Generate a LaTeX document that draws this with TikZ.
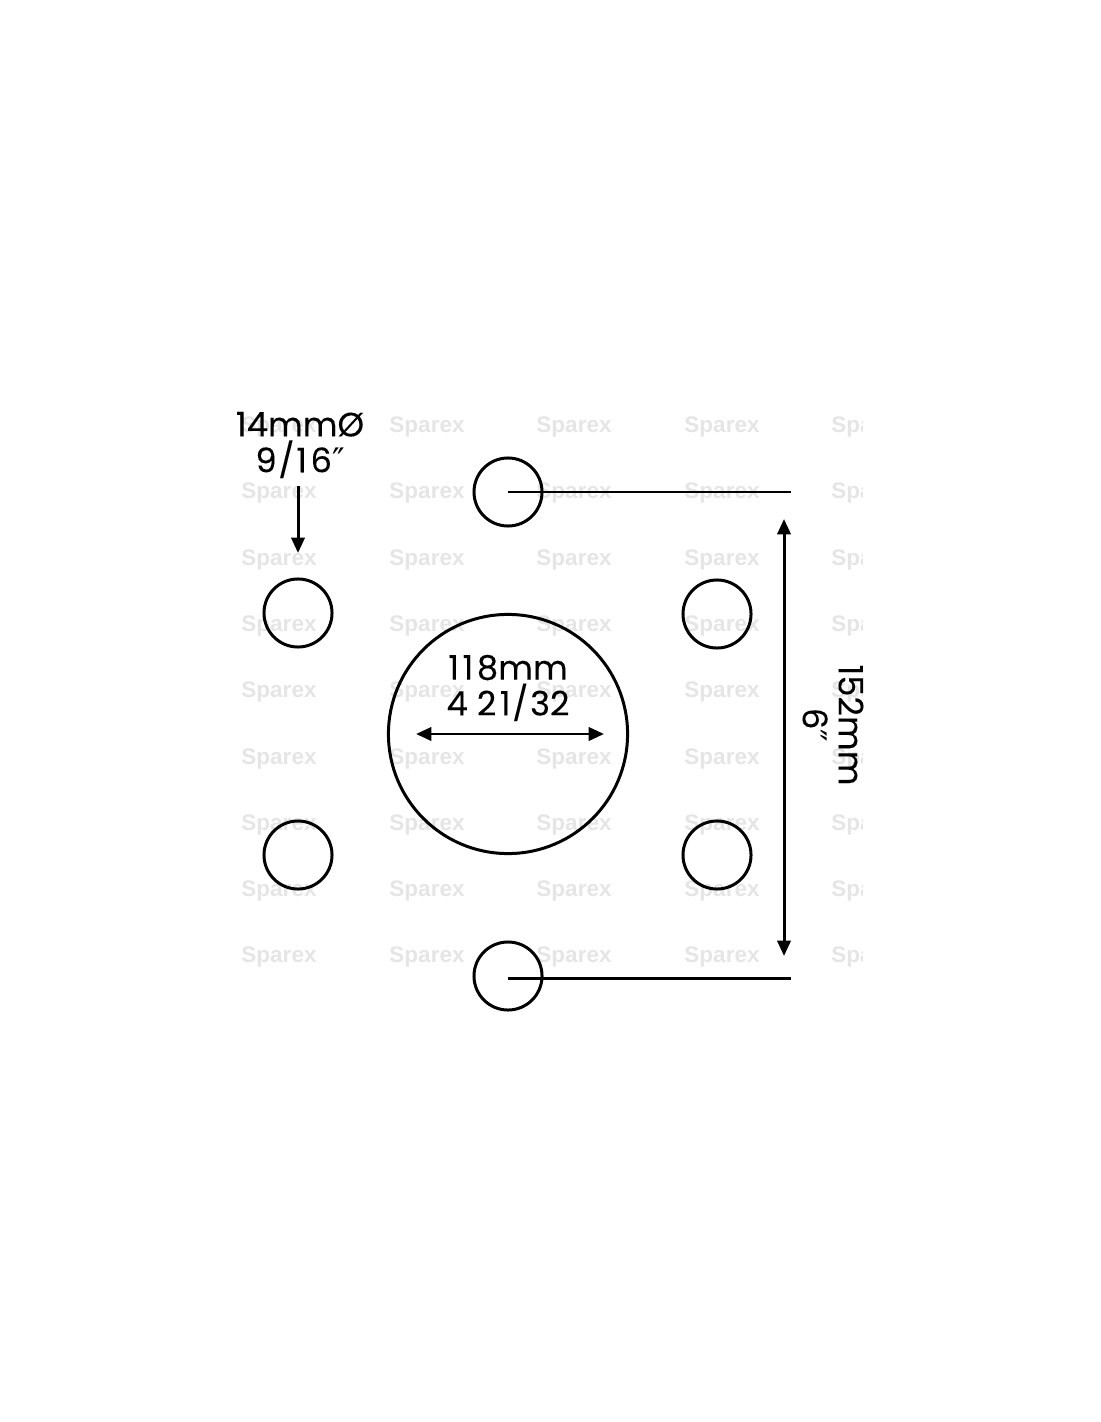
\documentclass[tikz,border=0pt]{standalone}
\usepackage{fontspec}
\setmainfont{Poppins}[FakeBold=0.15]
\newfontfamily\markfont{Liberation Sans}[BoldFont={Liberation Sans Bold}]
\newfontfamily\primefont{DejaVu Sans}
\usetikzlibrary{arrows.meta}
\definecolor{markgray}{gray}{0.9}
\newcommand{\dblprime}{{\primefont\char"2033}}
\newcommand{\onesp}{\kern1pt}
\newcommand{\halfsp}{\kern0.5pt}
\tikzset{
  hole/.style={draw=black,line width=0.85pt,circle,inner sep=0pt,outer sep=0pt,minimum size=0.68cm},
  bore/.style={draw=black,line width=0.85pt,circle,inner sep=0pt,outer sep=0pt,minimum size=2.39cm},
  dimline/.style={black,line width=0.85pt},
  dimarrow/.style={black,line width=0.85pt,-{Triangle[length=4.4pt,width=3.8pt]}},
  dimboth/.style={black,line width=0.85pt,{Triangle[length=4.4pt,width=3.8pt]}-{Triangle[length=4.4pt,width=3.8pt]}},
  dimtext/.style={inner sep=0pt,align=center,font=\fontsize{9.6}{10.2}\selectfont},
  wmark/.style={inner sep=0pt,text=markgray,font=\markfont\bfseries\fontsize{6.4}{7}\selectfont}
}
\begin{document}
\begin{tikzpicture}[x=0.01cm,y=0.01cm]
\useasboundingbox (0,0) rectangle (1100,-1422);
\begin{scope}
\clip (230,-405) rectangle (862,-975);
\foreach \wx in {279,427,574,722,869}
  \foreach \wy in {425,491,558,624,690,757,823,889,955}
    \node [wmark] (mark\wx-\wy) at (\wx,-\wy-2) {Sparex};
\end{scope}
\node [bore] (bore) at (508,-734) {};
\node [hole] (holeN) at (508,-492) {};
\node [hole] (holeNW) at (298,-613) {};
\node [hole] (holeNE) at (717,-614) {};
\node [hole] (holeSW) at (298,-855) {};
\node [hole] (holeSE) at (717,-855) {};
\node [hole] (holeS) at (508,-976) {};
\node [dimtext] (holesize) at (300,-445) {14mm\O\\9\halfsp/\halfsp 1\onesp 6\dblprime};
\node [dimtext] (boresize) at (508,-688) {1\onesp 1\onesp 8mm\\4 2\onesp 1\halfsp/\halfsp 32};
\node [dimtext,rotate=-90] (pitch) at (833,-725) {152mm\\6\dblprime};
\coordinate (topend) at (791,-492);
\coordinate (botstart) at (508,-978);
\coordinate (botend) at (791,-978);
\coordinate (pitchtop) at (784,-519);
\coordinate (pitchbot) at (784,-956);
\coordinate (boreleft) at (416,-734);
\coordinate (boreright) at (604,-734);
\coordinate (holetop) at (298,-486);
\coordinate (holebot) at (298,-553);
\draw [dimline] (holeN.center) -- (topend);
\draw [dimline] (botstart) -- (botend);
\draw [dimboth] (pitchtop) -- (pitchbot);
\draw [dimboth] (boreleft) -- (boreright);
\draw [dimarrow] (holetop) -- (holebot);
\end{tikzpicture}
\end{document}
